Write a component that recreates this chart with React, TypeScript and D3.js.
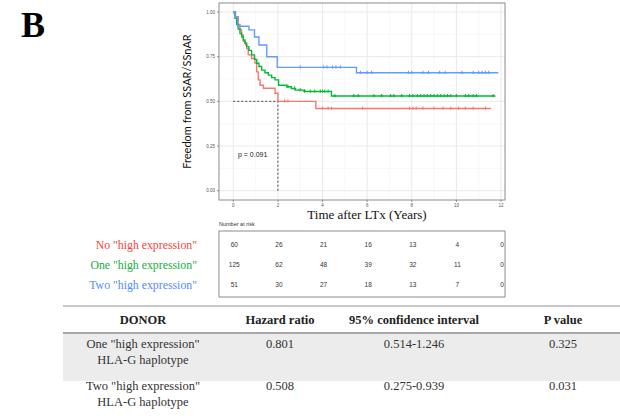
import React from "react";
import * as d3 from "d3";

// ---------- data ----------
const groupNames = ['No "high expression"', 'One "high expression"', 'Two "high expression"'];
const groupColors = ["#F8766D", "#00BA38", "#619CFF"];
const labelColors = ["#F5443A", "#13AE3C", "#4F8CFF"];

// step curves: [time of drop, survival after drop]
const redSteps: [number, number][] = [
  [0, 1], [0.1, 0.974], [0.22, 0.93], [0.3, 0.9], [0.37, 0.87], [0.45, 0.835], [0.55, 0.815],
  [0.6, 0.795], [0.67, 0.76], [0.82, 0.74], [0.97, 0.715], [1.05, 0.665], [1.12, 0.62],
  [1.2, 0.59], [1.35, 0.573], [1.87, 0.545], [2.0, 0.5], [3.7, 0.46], [11.55, 0.46],
];
const greenSteps: [number, number][] = [
  [0, 1], [0.05, 0.99], [0.08, 0.965], [0.15, 0.93], [0.22, 0.905], [0.3, 0.88], [0.38, 0.86],
  [0.45, 0.843], [0.52, 0.825], [0.6, 0.806], [0.7, 0.785], [0.82, 0.76], [0.95, 0.735],
  [1.05, 0.713], [1.15, 0.695], [1.27, 0.675], [1.42, 0.66], [1.57, 0.647], [1.72, 0.633],
  [1.87, 0.62], [2.03, 0.59], [2.4, 0.582], [2.6, 0.572], [2.77, 0.563], [3.2, 0.555],
  [4.4, 0.53], [11.75, 0.53],
];
const blueSteps: [number, number][] = [
  [0, 1], [0.08, 0.97], [0.2, 0.92], [0.7, 0.9], [0.95, 0.86], [1.15, 0.815], [1.5, 0.75],
  [1.97, 0.69], [5.52, 0.66], [11.88, 0.66],
];

const redCensor = [2.3, 2.45, 4.0, 4.25, 4.4, 5.8, 7.9, 8.05, 8.2, 8.5, 9.0, 9.4, 9.75, 10.1, 10.4, 10.75, 11.3];
const greenCensor = [2.45, 2.75, 3.0, 3.2, 3.45, 3.65, 3.9, 4.0, 4.1, 4.25, 4.55, 5.4, 5.6, 6.3, 6.65, 7.05,
  7.2, 7.55, 7.9, 8.05, 8.25, 8.4, 8.55, 8.7, 8.85, 9.0, 9.15, 9.3, 9.45, 9.6, 9.75, 10.0, 10.4,
  10.55, 10.75, 10.9, 11.65];
const blueCensor = [3.0, 4.05, 4.2, 4.45, 4.6, 4.8, 5.7, 6.0, 6.2, 7.85, 8.0, 8.5, 8.75, 9.25, 9.5,
  10.25, 10.75, 11.0, 11.15, 11.3, 11.45];

const xTicks = [0, 2, 4, 6, 8, 10, 12];
const yTicks = [0, 0.25, 0.5, 0.75, 1];
const yTickLabels = ["0.00", "0.25", "0.50", "0.75", "1.00"];

const riskNo = [60, 26, 21, 16, 13, 4, 0];
const riskOne = [125, 62, 48, 39, 32, 11, 0];
const riskTwo = [51, 30, 27, 18, 13, 7, 0];

const medianTime = 2;
const pValueText = "p = 0.091";

const tableHeader = ["DONOR", "Hazard ratio", "95% confidence interval", "P value"];
const tableRow1 = [["One \"high expression\"", "HLA-G haplotype"], ["0.801"], ["0.514-1.246"], ["0.325"]];
const tableRow2 = [["Two \"high expression\"", "HLA-G haplotype"], ["0.508"], ["0.275-0.939"], ["0.031"]];

// ---------- layout ----------
const panel = { x0: 219, x1: 505, y0: 3, y1: 200 };
const x = d3.scaleLinear().domain([0, 12]).range([233.3, 501]);
const y = d3.scaleLinear().domain([0, 1]).range([190.7, 12]);

function survAt(steps: [number, number][], t: number) {
  let s = 1;
  for (const [tt, v] of steps) if (tt <= t) s = v;
  return s;
}

const line = d3
  .line<[number, number]>()
  .x((d) => x(d[0]))
  .y((d) => y(d[1]))
  .curve(d3.curveStepAfter);

const serif = "'Liberation Serif', 'Times New Roman', serif";
const sans = "'Liberation Sans', Arial, sans-serif";

export default function App() {
  const curves = [
    { steps: redSteps, censor: redCensor, color: groupColors[0] },
    { steps: greenSteps, censor: greenCensor, color: groupColors[1] },
    { steps: blueSteps, censor: blueCensor, color: groupColors[2] },
  ];
  const risks = [riskNo, riskOne, riskTwo];
  const riskRowY = [245, 265, 285];
  const colX = [143, 280, 414, 563];

  const xMinor = d3.range(1, 12, 2);
  const yMinor = [0.125, 0.375, 0.625, 0.875];

  return (
    <svg
      width={620}
      height={416}
      style={{ position: "absolute", left: 0, top: 0, background: "#fff" }}
    >
      <rect x={0} y={0} width={620} height={416} fill="#fff" />
      {/* Panel label */}
      <text x={21} y={37} fontFamily={serif} fontWeight="bold" fontSize={36} fill="#000">
        B
      </text>

      {/* grid */}
      {xMinor.map((t) => (
        <line key={"xm" + t} x1={x(t)} x2={x(t)} y1={panel.y0} y2={panel.y1} stroke="#f3f3f3" strokeWidth={0.6} />
      ))}
      {yMinor.map((v) => (
        <line key={"ym" + v} x1={panel.x0} x2={panel.x1} y1={y(v)} y2={y(v)} stroke="#f3f3f3" strokeWidth={0.6} />
      ))}
      {xTicks.map((t) => (
        <line key={"xg" + t} x1={x(t)} x2={x(t)} y1={panel.y0} y2={panel.y1} stroke="#e6e6e6" strokeWidth={0.9} />
      ))}
      {yTicks.map((v) => (
        <line key={"yg" + v} x1={panel.x0} x2={panel.x1} y1={y(v)} y2={y(v)} stroke="#e6e6e6" strokeWidth={0.9} />
      ))}

      {/* median dashed lines */}
      <path
        d={`M${x(0)},${y(0.5)}H${x(medianTime)}V${y(0)}`}
        fill="none"
        stroke="#333"
        strokeWidth={0.9}
        strokeDasharray="2,2"
      />

      {/* curves */}
      {curves.map((c, i) => (
        <g key={"c" + i}>
          <path d={line(c.steps) || ""} fill="none" stroke={c.color} strokeWidth={1.4} />
          {c.censor.map((t, j) => {
            const cx = x(t);
            const cy = y(survAt(c.steps, t));
            return (
              <path
                key={j}
                d={`M${cx - 1.6},${cy}H${cx + 1.6}M${cx},${cy - 2}V${cy + 1.2}`}
                stroke={c.color}
                strokeWidth={1}
                fill="none"
              />
            );
          })}
        </g>
      ))}

      {/* panel border */}
      <rect
        x={panel.x0}
        y={panel.y0}
        width={panel.x1 - panel.x0}
        height={panel.y1 - panel.y0}
        fill="none"
        stroke="#8c8c8c"
        strokeWidth={1}
      />

      {/* axes ticks */}
      {xTicks.map((t) => (
        <g key={"xt" + t}>
          <line x1={x(t)} x2={x(t)} y1={panel.y1} y2={panel.y1 + 2} stroke="#555" strokeWidth={0.6} />
          <text x={x(t)} y={panel.y1 + 6.5} textAnchor="middle" fontFamily={sans} fontSize={4.5} fill="#555">
            {t}
          </text>
        </g>
      ))}
      {yTicks.map((v, i) => (
        <g key={"yt" + v}>
          <line x1={panel.x0 - 2} x2={panel.x0} y1={y(v)} y2={y(v)} stroke="#555" strokeWidth={0.6} />
          <text x={panel.x0 - 4} y={y(v) + 1.6} textAnchor="end" fontFamily={sans} fontSize={4.5} fill="#555">
            {yTickLabels[i]}
          </text>
        </g>
      ))}

      {/* axis titles */}
      <text
        transform={`translate(191,${(panel.y0 + panel.y1) / 2}) rotate(-90)`}
        textAnchor="middle"
        fontFamily="Lato, 'Open Sans', sans-serif"
        fontSize={11}
        fill="#111"
      >
        Freedom from SSAR/SSnAR
      </text>
      <text x={367} y={219} textAnchor="middle" fontFamily={serif} fontSize={13} fill="#111">
        Time after LTx (Years)
      </text>

      {/* p value */}
      <text x={238} y={157} fontFamily={sans} fontSize={7} fill="#222">
        {pValueText}
      </text>

      {/* number at risk */}
      <text x={219} y={226} fontFamily={sans} fontSize={5.5} fill="#333">
        Number at risk
      </text>
      <rect x={219} y={231} width={286} height={66} fill="none" stroke="#8c8c8c" strokeWidth={1} />
      {risks.map((row, r) => (
        <g key={"r" + r}>
          <text
            x={197}
            y={riskRowY[r] + 3.5}
            textAnchor="end"
            fontFamily={serif}
            fontSize={11.8}
            fill={labelColors[r]}
          >
            {groupNames[r]}
          </text>
          {row.map((n, k) => (
            <text
              key={k}
              x={x(xTicks[k]) + 1}
              y={riskRowY[r] + 2.3}
              textAnchor="middle"
              fontFamily={sans}
              fontSize={6.5}
              fill="#333"
            >
              {n}
            </text>
          ))}
        </g>
      ))}

      {/* HR table */}
      <line x1={63} x2={620} y1={306} y2={306} stroke="#b5b5b5" strokeWidth={1.5} />
      {tableHeader.map((h, i) => (
        <text key={"h" + i} x={colX[i]} y={324} textAnchor="middle" fontFamily={serif} fontWeight="bold" fontSize={12.5} fill="#222">
          {h}
        </text>
      ))}
      <rect x={63} y={333} width={557} height={48} fill="#ececec" />
      <line x1={63} x2={620} y1={333} y2={333} stroke="#a8a8a8" strokeWidth={2} />
      {[tableRow1, tableRow2].map((row, ri) =>
        row.map((cell, ci) =>
          cell.map((txt, li) => (
            <text
              key={`t${ri}-${ci}-${li}`}
              x={colX[ci]}
              y={(ri === 0 ? 348 : 390) + li * 15.5}
              textAnchor="middle"
              fontFamily={serif}
              fontSize={12.5}
              fill="#333"
            >
              {txt}
            </text>
          ))
        )
      )}
    </svg>
  );
}
